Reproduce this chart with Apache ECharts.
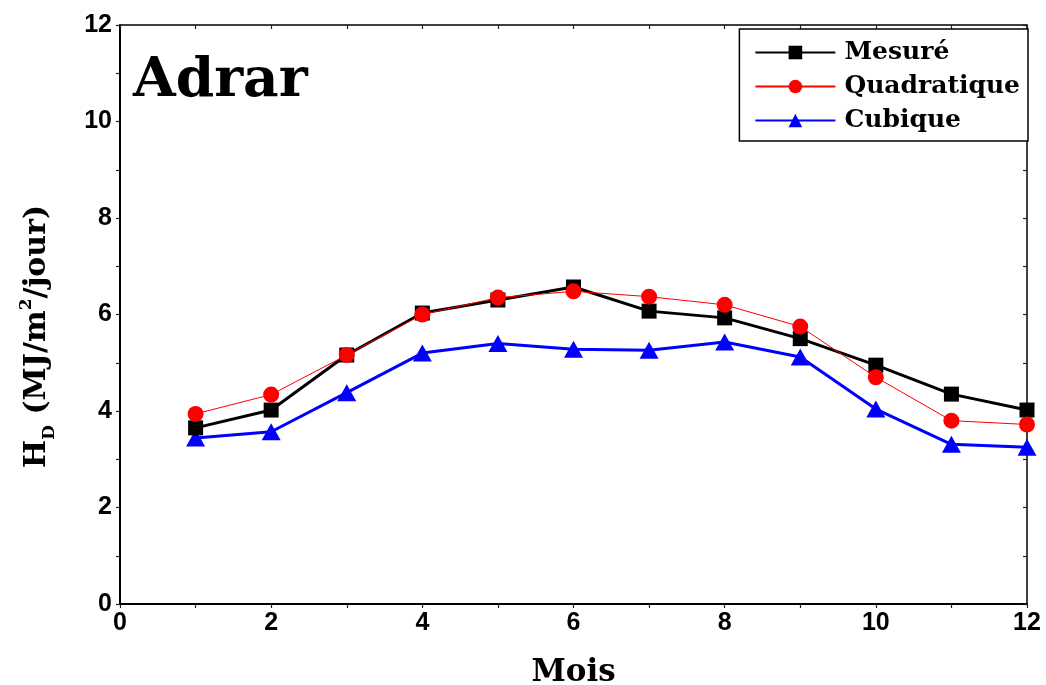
<!DOCTYPE html>
<html>
<head>
<meta charset="utf-8">
<script src="https://cdn.jsdelivr.net/npm/echarts@6/dist/echarts.min.js"></script>
<style>
  html, body { margin: 0; padding: 0; background: #fff; }
  #chart { width: 1046px; height: 685px; }
</style>
</head>
<body>
<div id="chart"></div>
<script>
// mois 1..12
var months = [1, 2, 3, 4, 5, 6, 7, 8, 9, 10, 11, 12];
var mesure = [3.65, 4.02, 5.16, 6.03, 6.30, 6.57, 6.07, 5.93, 5.50, 4.95, 4.35, 4.02];
var quadratique = [3.94, 4.34, 5.16, 6.00, 6.35, 6.48, 6.37, 6.20, 5.75, 4.70, 3.80, 3.72];
var cubique = [3.44, 3.57, 4.38, 5.20, 5.40, 5.28, 5.26, 5.43, 5.12, 4.04, 3.31, 3.25];

var serif = '"DejaVu Serif", serif';
var sans = '"Liberation Sans Narrow", "Liberation Sans", Arial, sans-serif';

function pairs(vals) {
  return months.map(function (m, i) { return [m, vals[i]]; });
}

var chart = echarts.init(document.getElementById('chart'));

// ticks: outside on left/bottom, inside on top/right (like the original)
function tick(inside) {
  return { show: true, inside: inside, length: 4, lineStyle: { color: '#222', width: 1.2 } };
}
function minor() {
  return { show: true, splitNumber: 2, length: 4, lineStyle: { color: '#222', width: 1.2 } };
}
function axLine(w) {
  return { show: true, onZero: false, lineStyle: { color: '#000', width: w } };
}

var option = {
  backgroundColor: '#fff',
  animation: false,
  title: {
    text: 'Adrar',
    left: 128,
    top: 49,
    textStyle: { fontFamily: serif, fontWeight: 'bold', fontSize: 55, color: '#000' }
  },
  legend: {
    right: 18,
    top: 29,
    orient: 'vertical',
    padding: [11, 8, 8, 15],
    itemGap: 9,
    itemWidth: 80,
    itemHeight: 17,
    borderColor: '#000',
    borderWidth: 1.5,
    backgroundColor: '#fff',
    textStyle: { fontFamily: serif, fontWeight: 'bold', fontSize: 25, color: '#000', padding: [0, 0, 0, 4] },
    data: ['Mesuré', 'Quadratique', 'Cubique']
  },
  grid: { left: 120, right: 19, top: 25, bottom: 81, outerBoundsMode: 'none' },
  xAxis: [{
    type: 'value',
    min: 0, max: 12, interval: 2,
    name: 'Mois',
    nameLocation: 'middle',
    nameGap: 53,
    nameTextStyle: { fontFamily: serif, fontWeight: 'bold', fontSize: 31, color: '#000' },
    axisLine: axLine(2),
    axisTick: tick(false),
    minorTick: minor(),
    splitLine: { show: false },
    axisLabel: { fontFamily: sans, fontWeight: 'bold', fontSize: 25, color: '#000', margin: 7 }
  }, {
    type: 'value', position: 'top',
    min: 0, max: 12, interval: 2,
    axisLine: axLine(1.5),
    axisTick: tick(true),
    minorTick: minor(),
    splitLine: { show: false },
    axisLabel: { show: false }
  }],
  yAxis: [{
    type: 'value',
    min: 0, max: 12, interval: 2,
    name: '{b|H}{sub|D}{b| (MJ/m}{sup|2}{b|/jour)}',
    nameLocation: 'middle',
    nameGap: 62,
    nameTextStyle: {
      padding: [0, 44, 0, 0],
      rich: {
        b: { fontFamily: serif, fontWeight: 'bold', fontSize: 30, color: '#000', lineHeight: 42 },
        sub: { fontFamily: serif, fontWeight: 'bold', fontSize: 17, color: '#000', padding: [26, 0, 0, 0], lineHeight: 42 },
        sup: { fontFamily: serif, fontWeight: 'bold', fontSize: 17, color: '#000', padding: [0, 0, 20, 0], lineHeight: 42 }
      }
    },
    axisLine: axLine(2),
    axisTick: tick(false),
    minorTick: minor(),
    splitLine: { show: false },
    axisLabel: { fontFamily: sans, fontWeight: 'bold', fontSize: 25, color: '#000', margin: 8 }
  }, {
    type: 'value', position: 'right',
    min: 0, max: 12, interval: 2,
    axisLine: axLine(1.5),
    axisTick: tick(true),
    minorTick: minor(),
    splitLine: { show: false },
    axisLabel: { show: false }
  }],
  series: [{
    name: 'Mesuré',
    type: 'line',
    data: pairs(mesure),
    symbol: 'rect',
    symbolSize: 15,
    color: '#000',
    lineStyle: { color: '#000', width: 3 },
    itemStyle: { color: '#000' },
    z: 3
  }, {
    name: 'Quadratique',
    type: 'line',
    data: pairs(quadratique),
    symbol: 'circle',
    symbolSize: 16,
    color: '#ff0000',
    lineStyle: { color: '#ff0000', width: 1 },
    itemStyle: { color: '#ff0000' },
    z: 4
  }, {
    name: 'Cubique',
    type: 'line',
    data: pairs(cubique),
    symbol: 'triangle',
    symbolSize: [19, 17],
    color: '#0000ff',
    lineStyle: { color: '#0000ff', width: 3 },
    itemStyle: { color: '#0000ff' },
    z: 2
  }]
};

chart.setOption(option);
</script>
</body>
</html>
